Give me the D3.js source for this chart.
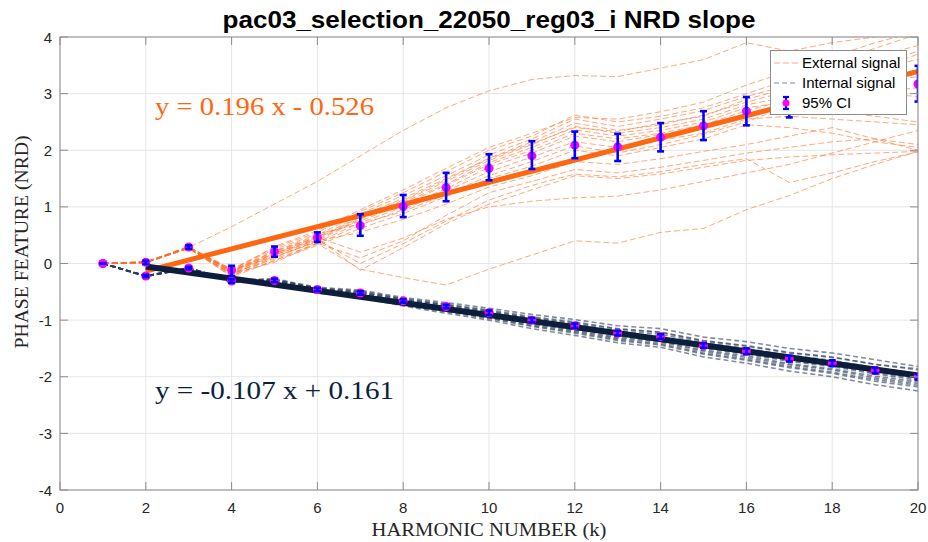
<!DOCTYPE html>
<html>
<head>
<meta charset="utf-8">
<script src="https://cdn.jsdelivr.net/npm/d3@7"></script>
<style>
  html, body { margin: 0; padding: 0; background: #fff; }
  svg { display: block; }
</style>
</head>
<body>
<svg id="chart" width="928" height="542"></svg>
<script>
// Harmonic numbers on the x axis
const harmonics = [1,2,3,4,5,6,7,8,9,10,11,12,13,14,15,16,17,18,19,20];

// External-signal ensemble (phase feature per harmonic, one array per member)
const externalRuns = [
  [0, 0.03, 0.28, 0.65, 1.05, 1.45, 1.90, 2.35, 2.75, 3.05, 3.25, 3.32, 3.30, 3.45, 3.60, 3.90, 3.75, 3.90, 4.00, 4.15],
  [0, 0.02, 0.27, -0.18, 0.02, 0.35, -0.10, -0.25, -0.38, -0.10, 0.15, 0.40, 0.36, 0.55, 0.62, 0.95, 1.20, 1.50, 1.75, 1.98],
  [0, 0.02, 0.29, -0.10, 0.28, 0.55, 0.92, 1.25, 1.62, 2.00, 2.25, 2.62, 2.50, 2.60, 2.75, 3.00, 3.25, 3.55, 3.80, 4.05],
  [0, 0.03, 0.30, -0.14, 0.22, 0.50, 0.88, 1.20, 1.55, 1.92, 2.20, 2.55, 2.42, 2.55, 2.70, 2.95, 3.15, 3.40, 3.65, 3.85],
  [0, 0.01, 0.27, -0.18, 0.18, 0.46, 0.84, 1.15, 1.50, 1.86, 2.15, 2.48, 2.35, 2.45, 2.62, 2.85, 3.05, 3.25, 3.45, 3.60],
  [0, 0.02, 0.28, -0.20, 0.15, 0.42, 0.80, 1.10, 1.45, 1.82, 2.10, 2.42, 2.30, 2.40, 2.55, 2.80, 2.95, 3.10, 3.20, 3.30],
  [0, 0.03, 0.26, -0.22, 0.10, 0.40, 0.78, 1.08, 1.40, 1.78, 2.05, 2.36, 2.25, 2.35, 2.50, 2.75, 2.85, 2.95, 3.05, 3.10],
  [0, 0.02, 0.29, -0.15, 0.20, 0.48, 0.75, 1.05, 1.38, 1.75, 2.00, 2.30, 2.20, 2.30, 2.45, 2.70, 2.90, 3.05, 3.00, 2.95],
  [0, 0.01, 0.27, -0.12, 0.12, 0.38, 0.72, 1.00, 1.32, 1.70, 1.95, 2.25, 2.15, 2.28, 2.40, 2.62, 2.75, 2.70, 2.60, 2.50],
  [0, 0.02, 0.30, -0.17, 0.08, 0.35, 0.68, 0.95, 1.28, 1.62, 1.88, 2.15, 2.05, 2.18, 2.30, 2.55, 2.60, 2.55, 2.50, 2.45],
  [0, 0.03, 0.28, -0.10, 0.25, 0.52, 0.70, 0.92, 1.22, 1.55, 1.80, 2.08, 1.95, 2.10, 2.28, 2.50, 2.80, 3.10, 3.40, 3.70],
  [0, 0.02, 0.28, -0.24, 0.05, 0.32, 0.62, 0.88, 1.18, 1.50, 1.72, 2.00, 1.90, 2.05, 2.20, 2.45, 2.40, 2.30, 2.15, 2.05],
  [0, 0.02, 0.27, -0.13, 0.30, 0.58, 0.95, 1.30, 1.68, 2.05, 2.30, 2.58, 2.55, 2.68, 2.85, 3.15, 3.40, 3.65, 3.90, 4.10],
  [0, 0.03, 0.29, -0.11, 0.17, 0.44, 0.82, 1.12, 1.48, 1.85, 2.12, 2.40, 2.33, 2.48, 2.60, 2.90, 3.10, 3.30, 3.50, 3.75],
  [0, 0.02, 0.27, -0.19, 0.12, 0.40, 0.55, 0.78, 1.05, 1.35, 1.55, 1.80, 1.75, 1.85, 1.98, 2.10, 2.25, 2.40, 2.20, 2.00],
  [0, 0.03, 0.29, -0.21, 0.05, 0.36, 0.10, 0.40, 0.85, 1.25, 1.45, 1.66, 1.60, 1.70, 1.82, 1.95, 2.05, 2.15, 2.20, 2.10],
  [0, 0.02, 0.28, -0.16, 0.15, 0.42, 0.00, 0.35, 0.75, 1.12, 1.38, 1.58, 1.53, 1.62, 1.75, 1.85, 1.43, 1.60, 1.80, 1.97],
  [0, 0.01, 0.28, -0.14, 0.18, 0.44, -0.12, 0.28, 0.70, 1.05, 1.30, 1.55, 1.50, 1.58, 1.70, 1.82, 1.88, 1.92, 1.95, 1.98],
  [0, 0.02, 0.30, -0.12, 0.22, 0.46, 0.20, 0.45, 0.78, 1.00, 1.10, 1.16, 1.19, 1.30, 1.45, 1.60, 1.75, 1.95, 2.15, 2.35]
];

// Internal-signal ensemble
const internalRuns = [
  [0, -0.22, -0.08, -0.29, -0.27, -0.42, -0.47, -0.60, -0.69, -0.79, -0.90, -0.99, -1.10, -1.15, -1.30, -1.38, -1.50, -1.58, -1.70, -1.82],
  [0, -0.22, -0.08, -0.30, -0.28, -0.44, -0.49, -0.62, -0.72, -0.82, -0.94, -1.03, -1.15, -1.21, -1.36, -1.45, -1.57, -1.65, -1.78, -1.88],
  [0, -0.22, -0.09, -0.30, -0.29, -0.45, -0.51, -0.64, -0.74, -0.85, -0.97, -1.07, -1.19, -1.25, -1.40, -1.50, -1.62, -1.71, -1.84, -1.94],
  [0, -0.23, -0.08, -0.31, -0.30, -0.46, -0.52, -0.66, -0.76, -0.87, -1.00, -1.10, -1.23, -1.29, -1.45, -1.55, -1.68, -1.76, -1.89, -2.00],
  [0, -0.22, -0.08, -0.32, -0.31, -0.47, -0.54, -0.68, -0.79, -0.90, -1.04, -1.14, -1.27, -1.34, -1.50, -1.60, -1.73, -1.82, -1.95, -2.06],
  [0, -0.23, -0.09, -0.32, -0.32, -0.49, -0.56, -0.71, -0.82, -0.94, -1.08, -1.19, -1.32, -1.39, -1.55, -1.66, -1.79, -1.88, -2.02, -2.12],
  [0, -0.22, -0.08, -0.33, -0.33, -0.50, -0.58, -0.73, -0.85, -0.97, -1.11, -1.23, -1.36, -1.44, -1.60, -1.71, -1.84, -1.94, -2.08, -2.18],
  [0, -0.22, -0.09, -0.33, -0.34, -0.52, -0.60, -0.75, -0.88, -1.00, -1.15, -1.27, -1.40, -1.48, -1.65, -1.76, -1.90, -2.00, -2.14, -2.25],
  [0, -0.22, -0.08, -0.30, -0.29, -0.43, -0.50, -0.63, -0.73, -0.84, -0.96, -1.05, -1.16, -1.22, -1.37, -1.46, -1.58, -1.66, -1.78, -1.86],
  [0, -0.23, -0.08, -0.31, -0.31, -0.47, -0.53, -0.67, -0.78, -0.89, -1.02, -1.12, -1.25, -1.32, -1.48, -1.58, -1.71, -1.80, -1.93, -2.03],
  [0, -0.22, -0.09, -0.31, -0.32, -0.48, -0.55, -0.70, -0.81, -0.93, -1.06, -1.17, -1.30, -1.37, -1.53, -1.63, -1.77, -1.86, -1.99, -2.09],
  [0, -0.22, -0.08, -0.32, -0.33, -0.51, -0.57, -0.72, -0.84, -0.96, -1.10, -1.21, -1.34, -1.42, -1.58, -1.69, -1.82, -1.92, -2.05, -2.15]
];

// 95% confidence intervals of the ensemble means
const extMean = [0, 0.02, 0.29, -0.12, 0.21, 0.46, 0.67, 1.01, 1.34, 1.68, 1.90, 2.09, 2.06, 2.23, 2.43, 2.69, 2.86, 3.00, 3.10, 3.17];
const extLow  = [0, -0.01, 0.26, -0.22, 0.12, 0.38, 0.49, 0.82, 1.10, 1.47, 1.67, 1.86, 1.81, 1.98, 2.18, 2.44, 2.58, 2.72, 2.80, 2.86];
const extHigh = [0, 0.05, 0.32, -0.04, 0.30, 0.55, 0.87, 1.21, 1.60, 1.93, 2.16, 2.33, 2.29, 2.48, 2.69, 2.94, 3.12, 3.28, 3.40, 3.49];
const intMean = [0, -0.22, -0.08, -0.31, -0.30, -0.46, -0.52, -0.66, -0.76, -0.87, -1.00, -1.10, -1.23, -1.29, -1.45, -1.55, -1.68, -1.76, -1.89, -2.00];
const intHalf = [0, 0.02, 0.02, 0.03, 0.03, 0.03, 0.03, 0.03, 0.03, 0.04, 0.04, 0.04, 0.04, 0.04, 0.04, 0.05, 0.05, 0.05, 0.05, 0.05];

// Linear fits: [external, internal]
const fitSlopes = [0.196, -0.107];
const fitIntercepts = [-0.526, 0.161];
const fitRange = [2, 20];

// Axis ticks
const xTicks = [0, 2, 4, 6, 8, 10, 12, 14, 16, 18, 20];
const yTicks = [-4, -3, -2, -1, 0, 1, 2, 3, 4];

const svg = d3.select("#chart");
const m = { left: 60, right: 918, top: 37, bottom: 490 };

const x = d3.scaleLinear().domain([0, 20]).range([m.left, m.right]);
const y = d3.scaleLinear().domain([-4, 4]).range([m.bottom, m.top]);

const sansFont = "'Liberation Sans', Arial, Helvetica, sans-serif";
const serifFont = "'Liberation Serif', 'Times New Roman', serif";

const orange = "#ff6611";
const navy = "#0c1e3c";

svg.append("defs").append("clipPath").attr("id", "plotClip")
  .append("rect").attr("x", m.left).attr("y", m.top)
  .attr("width", m.right - m.left).attr("height", m.bottom - m.top);

// Grid
const grid = svg.append("g");
grid.selectAll(".gx").data(xTicks).join("line")
  .attr("x1", d => x(d)).attr("x2", d => x(d))
  .attr("y1", m.top).attr("y2", m.bottom)
  .attr("stroke", "#e5e5e5").attr("stroke-width", 1);
grid.selectAll(".gy").data(yTicks).join("line")
  .attr("x1", m.left).attr("x2", m.right)
  .attr("y1", d => y(d)).attr("y2", d => y(d))
  .attr("stroke", "#e5e5e5").attr("stroke-width", 1);

const plot = svg.append("g").attr("clip-path", "url(#plotClip)");

const line = d3.line().x((d, i) => x(harmonics[i])).y(d => y(d));

// External ensemble
plot.append("g").selectAll("path").data(externalRuns).join("path")
  .attr("d", line)
  .attr("fill", "none")
  .attr("stroke", "rgba(255,110,40,0.6)")
  .attr("stroke-width", 1)
  .attr("stroke-dasharray", "6,3");

// Internal ensemble
plot.append("g").selectAll("path").data(internalRuns).join("path")
  .attr("d", line)
  .attr("fill", "none")
  .attr("stroke", "rgba(45,62,92,0.6)")
  .attr("stroke-width", 1.6)
  .attr("stroke-dasharray", "5,3");

// Fit lines
const fitColors = [orange, navy];
fitSlopes.forEach((s, i) => {
  const pts = fitRange.map(k => [k, s * k + fitIntercepts[i]]);
  plot.append("path")
    .attr("d", d3.line().x(d => x(d[0])).y(d => y(d[1]))(pts))
    .attr("fill", "none")
    .attr("stroke", fitColors[i])
    .attr("stroke-width", i === 0 ? 5 : 6)
    .attr("stroke-linecap", "butt");
});

// Confidence-interval markers
function drawCI(g, means, lows, highs) {
  const cg = g.append("g");
  cg.selectAll("circle").data(means).join("circle")
    .attr("cx", (d, i) => x(harmonics[i]))
    .attr("cy", d => y(d))
    .attr("r", 4.5)
    .attr("fill", "#ff00ff");
  const bars = cg.selectAll("g.bar").data(means).join("g").attr("class", "bar");
  bars.append("line")
    .attr("x1", (d, i) => x(harmonics[i])).attr("x2", (d, i) => x(harmonics[i]))
    .attr("y1", (d, i) => y(lows[i])).attr("y2", (d, i) => y(highs[i]))
    .attr("stroke", "#0000ff").attr("stroke-width", 2.6);
  [lows, highs].forEach(arr => {
    bars.append("line")
      .attr("x1", (d, i) => x(harmonics[i]) - 3.5).attr("x2", (d, i) => x(harmonics[i]) + 3.5)
      .attr("y1", (d, i) => y(arr[i])).attr("y2", (d, i) => y(arr[i]))
      .attr("stroke", "#0000ff").attr("stroke-width", 2.6);
  });
}
drawCI(plot, intMean, intMean.map((v, i) => v - intHalf[i]), intMean.map((v, i) => v + intHalf[i]));
drawCI(plot, extMean, extLow, extHigh);

// Axes box and inward ticks
const axisColor = "#8c8c8c";
svg.append("rect")
  .attr("x", m.left).attr("y", m.top)
  .attr("width", m.right - m.left).attr("height", m.bottom - m.top)
  .attr("fill", "none").attr("stroke", axisColor).attr("stroke-width", 1);

const tickLen = 8;
const ticks = svg.append("g").attr("stroke", axisColor).attr("stroke-width", 1);
xTicks.forEach(t => {
  ticks.append("line").attr("x1", x(t)).attr("x2", x(t)).attr("y1", m.bottom).attr("y2", m.bottom - tickLen);
  ticks.append("line").attr("x1", x(t)).attr("x2", x(t)).attr("y1", m.top).attr("y2", m.top + tickLen);
});
yTicks.forEach(t => {
  ticks.append("line").attr("x1", m.left).attr("x2", m.left + tickLen).attr("y1", y(t)).attr("y2", y(t));
  ticks.append("line").attr("x1", m.right).attr("x2", m.right - tickLen).attr("y1", y(t)).attr("y2", y(t));
});

// Tick labels
svg.append("g").selectAll("text").data(xTicks).join("text")
  .attr("x", d => x(d)).attr("y", 513)
  .attr("text-anchor", "middle")
  .attr("font-family", sansFont).attr("font-size", 15).attr("fill", "#262626")
  .text(d => d);
svg.append("g").selectAll("text").data(yTicks).join("text")
  .attr("x", 52).attr("y", d => y(d) + 5.5)
  .attr("text-anchor", "end")
  .attr("font-family", sansFont).attr("font-size", 15).attr("fill", "#262626")
  .text(d => d);

// Axis titles
svg.append("text")
  .attr("x", 489).attr("y", 536)
  .attr("text-anchor", "middle")
  .attr("font-family", serifFont).attr("font-size", 18).attr("fill", "#262626")
  .attr("textLength", 235).attr("lengthAdjust", "spacingAndGlyphs")
  .text("HARMONIC NUMBER (k)");
svg.append("text")
  .attr("transform", "translate(28,242) rotate(-90)")
  .attr("text-anchor", "middle")
  .attr("font-family", serifFont).attr("font-size", 19).attr("fill", "#262626")
  .attr("textLength", 213).attr("lengthAdjust", "spacingAndGlyphs")
  .text("PHASE FEATURE (NRD)");

// Chart title
svg.append("text")
  .attr("x", 489).attr("y", 28)
  .attr("text-anchor", "middle")
  .attr("font-family", sansFont).attr("font-weight", "bold").attr("font-size", 24).attr("fill", "#000")
  .attr("textLength", 533).attr("lengthAdjust", "spacingAndGlyphs")
  .text("pac03_selection_22050_reg03_i NRD slope");

// Fit equations
function fmtEq(s, b) {
  const sign = b < 0 ? "-" : "+";
  return `y = ${s.toFixed(3)} x ${sign} ${Math.abs(b).toFixed(3)}`;
}
svg.append("text")
  .attr("x", 155).attr("y", 115)
  .attr("font-family", serifFont).attr("font-size", 25).attr("fill", orange)
  .attr("textLength", 219).attr("lengthAdjust", "spacingAndGlyphs")
  .text(fmtEq(fitSlopes[0], fitIntercepts[0]));
svg.append("text")
  .attr("x", 155).attr("y", 399)
  .attr("font-family", serifFont).attr("font-size", 25).attr("fill", navy)
  .attr("textLength", 239).attr("lengthAdjust", "spacingAndGlyphs")
  .text(fmtEq(fitSlopes[1], fitIntercepts[1]));

// Legend
const lg = svg.append("g");
lg.append("rect").attr("x", 770.5).attr("y", 50.5).attr("width", 136).attr("height", 64)
  .attr("fill", "#fff").attr("stroke", "#8c8c8c").attr("stroke-width", 1);
const legendItems = [
  { label: "External signal", cy: 63, kind: "ext" },
  { label: "Internal signal", cy: 83, kind: "int" },
  { label: "95% CI", cy: 103, kind: "ci" }
];
legendItems.forEach(it => {
  if (it.kind === "ext") {
    lg.append("line").attr("x1", 774).attr("x2", 798).attr("y1", it.cy).attr("y2", it.cy)
      .attr("stroke", "rgba(255,110,40,0.6)").attr("stroke-width", 1).attr("stroke-dasharray", "6,3");
  } else if (it.kind === "int") {
    lg.append("line").attr("x1", 774).attr("x2", 798).attr("y1", it.cy).attr("y2", it.cy)
      .attr("stroke", "rgba(45,62,92,0.6)").attr("stroke-width", 1).attr("stroke-dasharray", "5,3");
  } else {
    lg.append("line").attr("x1", 786).attr("x2", 786).attr("y1", it.cy - 6).attr("y2", it.cy + 6)
      .attr("stroke", "#0000ff").attr("stroke-width", 2.2);
    [-6, 6].forEach(o => lg.append("line").attr("x1", 783).attr("x2", 789)
      .attr("y1", it.cy + o).attr("y2", it.cy + o).attr("stroke", "#0000ff").attr("stroke-width", 2.2));
    lg.append("circle").attr("cx", 786).attr("cy", it.cy).attr("r", 3.5).attr("fill", "#ff00ff");
  }
  lg.append("text").attr("x", 802).attr("y", it.cy + 5)
    .attr("font-family", sansFont).attr("font-size", 15).attr("fill", "#000")
    .text(it.label);
});
</script>
</body>
</html>
